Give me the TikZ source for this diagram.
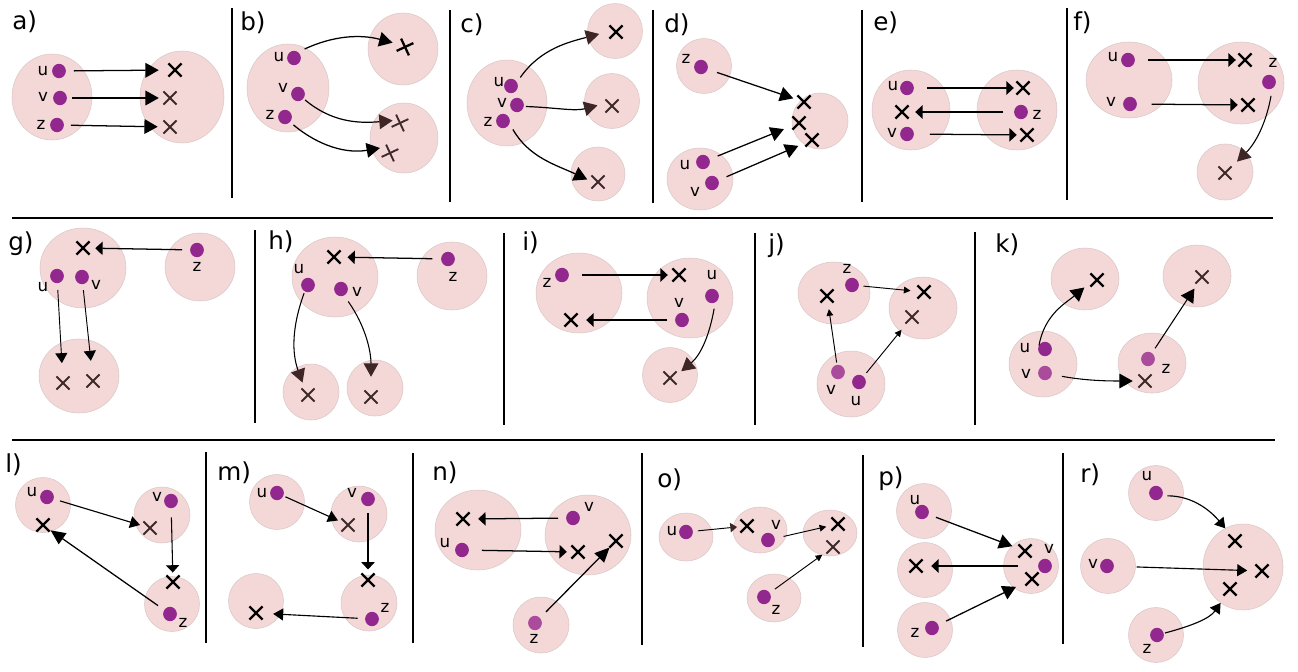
\documentclass[tikz,border=0pt]{standalone}
\usepackage{fontspec}
\setmainfont{DejaVu Sans}
\usetikzlibrary{shapes.geometric,shapes.misc,arrows.meta}
\definecolor{pinkf}{RGB}{244,215,215}
\definecolor{pinke}{RGB}{218,200,200}
\definecolor{purp}{RGB}{146,40,142}
\definecolor{lpurp}{RGB}{170,75,155}
\definecolor{xbrown}{RGB}{62,42,42}
\definecolor{hbrown}{RGB}{62,38,38}
\tikzset{
 blob/.style={ellipse,fill=pinkf,draw=pinke,line width=0.4pt,inner sep=0pt,outer sep=0pt},
 pdot/.style={ellipse,fill=purp,draw=none,minimum width=10.3pt,minimum height=10.8pt,inner sep=0pt,outer sep=0pt},
 ldot/.style={pdot,fill=lpurp},
 xk/.style={cross out,draw=black,line width=1.7pt,minimum size=9.8pt,inner sep=0pt,outer sep=0pt},
 xb/.style={xk,draw=xbrown,line width=1.4pt},
 lab/.style={font=\fontsize{12.5}{13}\selectfont,inner sep=0pt},
 plab/.style={font=\fontsize{18.5}{19}\selectfont,inner sep=0pt,anchor=base west},
 vsep/.style={line width=1.5pt},
 hsep/.style={line width=2.2pt},
 arr/.style={line width=0.95pt,-{Triangle[length=10pt,width=11pt]}},
 arrb/.style={line width=0.9pt,-{Triangle[length=10pt,width=11pt,color=hbrown]}},
 arrm/.style={line width=0.85pt,-{Triangle[length=7.5pt,width=9pt]}},
 arrw/.style={line width=0.95pt,-{Triangle[length=5.5pt,width=10pt]}},
 arrs/.style={line width=0.7pt,-{Triangle[length=5pt,width=5pt]}},
 arrsb/.style={line width=0.7pt,-{Triangle[length=5pt,width=7pt,color=hbrown]}},
 arrL/.style={line width=0.95pt,-{Triangle[length=11pt,width=10pt]}},
 gp/.style 2 args={shorten <=#1pt,shorten >=#2pt},
}
\newcommand\mkb[5]{\node[blob,minimum width=#4*1.5pt,minimum height=#5*1.5pt] (#1) at (#2,#3) {};}
\newcommand\mkd[4][pdot]{\node[#1] (#2) at (#3,#4) {};}
\newcommand\mkx[4][xk]{\node[#1] (#2) at (#3,#4) {};}
\newcommand\mkl[4]{\node[lab] (#1) at (#2,#3) {#4};}
\begin{document}
\begin{tikzpicture}[x=0.75pt,y=-0.75pt]
\fill[white] (0,0) rectangle (1298,671);
\useasboundingbox (0,0) rectangle (1298,671);
% separators
\draw[hsep] (12,218) -- (1273,218);
\draw[hsep] (12,440) -- (1275,440);
\draw[vsep] (232,8) -- (232,198);
\draw[vsep] (450,10) -- (450,202);
\draw[vsep] (653,10) -- (653,203);
\draw[vsep] (862,10) -- (862,202);
\draw[vsep] (1067,8) -- (1067,200);
\draw[vsep] (255,230) -- (255,423);
\draw[vsep] (504,233) -- (504,425);
\draw[vsep] (755,233) -- (755,425);
\draw[vsep] (975,232) -- (975,425);
\draw[vsep] (206,452) -- (206,643);
\draw[vsep] (413,453) -- (413,643);
\draw[vsep] (642,453) -- (642,645);
\draw[vsep] (863,455) -- (863,647);
\draw[vsep] (1063,453) -- (1063,644);

% ---- a
\node[plab] (La) at (12,29) {a)};
\mkb{aL}{52}{97}{40}{43}
\mkb{aR}{182}{97}{42}{46}
\mkd{au}{59}{71} \mkd{av}{60}{98} \mkd{az}{57}{125}
\mkl{alu}{43}{71}{u} \mkl{alv}{43}{97}{v} \mkl{alz}{41}{125}{z}
\mkx{ax1}{175}{70} \mkx[xb]{ax2}{170}{98} \mkx[xb]{ax3}{170}{127}
\draw[arr,gp={6}{7.3}] (au) -- (ax1);
\draw[arr,gp={3.8}{3.5}] (av) -- (ax2);
\draw[arr,gp={5.2}{4.3}] (az) -- (ax3);

% ---- b
\node[plab] (Lb) at (240,30) {b)};
\mkb{bL}{288}{88}{41}{44} \mkb{bT}{403}{49}{35}{36} \mkb{bB}{404}{138}{34}{35}
\mkd{bu}{294}{58} \mkd{bv}{298}{94} \mkd{bz}{285}{117}
\mkl{blu}{279}{57}{u} \mkl{blv}{283}{88}{v} \mkl{blz}{270}{115}{z}
\mkx[xk,rotate=-20]{bx1}{405}{47} \mkx[xb,rotate=-20]{bx2}{400}{123} \mkx[xb,rotate=-20]{bx3}{390}{153}
\draw[arr,gp={5.5}{5}] (bu.56) to[out=25,in=165] (bx1.177);
\draw[arrb,gp={1.7}{1}] (bv.-40) to[out=-40,in=185] (bx2.177);
\draw[arr,gp={3.4}{4}] (bz.-45) to[out=-40,in=190] (bx3.149);

% ---- c
\node[plab] (Lc) at (460,32) {c)};
\mkb{cL}{507}{103}{40}{43} \mkb{cT}{615}{31}{27.5}{27.5} \mkb{cM}{612}{101}{27.5}{27.5} \mkb{cB}{598}{174}{27}{27}
\mkd{cu}{511}{86} \mkd{cv}{517}{105} \mkd{cz}{503}{121}
\mkl{clu}{499}{82}{u} \mkl{clv}{502}{103}{v} \mkl{clz}{488}{122}{z}
\mkx{cx1}{616}{32} \mkx[xb]{cx2}{612}{106} \mkx[xb]{cx3}{598}{182}
\draw[arrb,gp={4.5}{8}] (cu.32) to[out=55,in=195] (cx1.173);
\draw[arrb,gp={1.6}{6.2}] (cv.-12) to[out=-2,in=195] (cx2.157);
\draw[arr,gp={5.2}{3.5}] (cz.-21) to[out=-60,in=155] (cx3.175);

% ---- d
\node[plab] (Ld) at (664,32) {d)};
\mkb{dT}{704}{66}{27.5}{27.5} \mkb{dB}{700}{179}{33}{31} \mkb{dR}{820}{121}{28}{28}
\mkd{dz}{701}{67} \mkd{du}{703}{162} \mkd{dv}{712}{183}
\mkl{dlz}{686}{59}{z} \mkl{dlu}{685}{165}{u} \mkl{dlv}{695}{192}{v}
\mkx{dx1}{804}{102} \mkx{dx2}{799}{123} \mkx{dx3}{812}{140}
\draw[arr,gp={7.5}{3.3}] (dz) -- (dx1);
\draw[arr,gp={6.7}{6.9}] (du) -- (dx2);
\draw[arr,gp={6.7}{5.8}] (dv) -- (dx3);

% ---- e
\node[plab] (Le) at (873,30) {e)};
\mkb{eL}{911}{110}{39}{40} \mkb{eR}{1017}{110}{40}{40}
\mkd{eu}{907}{88} \mkd{ev}{907}{134} \mkd{ez}{1021}{112}
\mkl{elu}{893}{86}{u} \mkl{elv}{892}{133}{v} \mkl{elz}{1037}{115}{z}
\mkx{ex1}{1023}{88} \mkx{ex2}{902}{112} \mkx{ex3}{1027}{135}
\draw[arrw,gp={9.8}{2}] (eu) -- (ex1);
\draw[arrw,gp={8.3}{5}] (ez) -- (ex2);
\draw[arrw,gp={12}{2.8}] (ev) -- (ex3);

% ---- f
\node[plab] (Lf) at (1073,30) {f)};
\mkb{fL}{1129}{80}{43}{38} \mkb{fR}{1241}{83}{43}{41} \mkb{fB}{1225}{172}{28}{28}
\mkd{fu}{1128}{60} \mkd{fv}{1130}{104} \mkd{fz}{1269}{82}
\mkl{flu}{1113}{57}{u} \mkl{flv}{1111}{102}{v} \mkl{flz}{1273}{63}{z}
\mkx{fx1}{1245}{60} \mkx{fx2}{1248}{105} \mkx[xb]{fx3}{1225}{173}
\draw[arrw,gp={9.8}{2}] (fu) -- (fx1);
\draw[arrw,gp={11}{2.8}] (fv) -- (fx2);
\draw[arrb,line width=0.8pt,gp={5.8}{5.8}] (fz.-62) to[out=-100,in=45] (fx3.42);

% ---- g
\node[plab] (Lg) at (8,250) {g)};
\mkb{gM}{83}{268}{43}{40} \mkb{gZ}{200}{267}{35}{34} \mkb{gB}{79}{376}{40}{37}
\mkd{gu}{57}{276} \mkd{gv}{82}{277} \mkd{gz}{197}{250}
\mkl{glu}{43}{287}{u} \mkl{glv}{96}{285}{v} \mkl{glz}{197}{267}{z}
\mkx{gx1}{83}{248} \mkx[xb]{gx2}{63}{383} \mkx[xb]{gx3}{93}{381}
\draw[arrw,gp={6}{4.3}] (gz) -- (gx1);
\draw[arrm,line width=0.7pt,gp={5}{10}] (gu) -- (gx2);
\draw[arrm,line width=0.7pt,gp={4.5}{10.3}] (gv) -- (gx3);

% ---- h
\node[plab] (Lh) at (268,249) {h)};
\mkb{hM}{335}{277}{43}{40} \mkb{hZ}{452}{276}{35}{34} \mkb{hBL}{311}{392}{28}{28} \mkb{hBR}{375}{388}{28}{28}
\mkd{hu}{308}{285} \mkd{hv}{341}{289} \mkd{hz}{448}{259}
\mkl{hlu}{299}{269}{u} \mkl{hlv}{357}{292}{v} \mkl{hlz}{453}{277}{z}
\mkx{hx1}{334}{257} \mkx[xb]{hx2}{308}{395} \mkx[xb]{hx3}{371}{397}
\draw[arrw,gp={6.6}{5.2}] (hz) -- (hx1);
\draw[arrb,line width=0.8pt,gp={1.5}{4.7}] (hu.-117) to[out=-110,in=110] (hx2.117);
\draw[arrb,line width=0.8pt,gp={5.5}{10.3}] (hv.-65) to[out=-55,in=90] (hx3.90);

% ---- i
\node[plab] (Li) at (522,250) {i)};
\mkb{iL}{579}{293}{43}{40} \mkb{iR}{690}{298}{43}{40} \mkb{iB}{670}{375}{27.5}{27.5}
\mkd{iz}{562}{275} \mkd{iu}{712}{296} \mkd{iv}{682}{320}
\mkl{ilz}{547}{283}{z} \mkl{ilu}{712}{275}{u} \mkl{ilv}{679}{303}{v}
\mkx{ix1}{679}{275} \mkx{ix2}{571}{320} \mkx[xb]{ix3}{670}{378}
\draw[arrw,gp={9.8}{3.5}] (iz) -- (ix1);
\draw[arrw,gp={6}{6.5}] (iv) -- (ix2);
\draw[arrb,line width=0.8pt,gp={4.8}{4.6}] (iu.-63) to[out=-100,in=40] (ix3.23);

% ---- j
\node[plab] (Lj) at (768,252) {j)};
\mkb{jTL}{834}{293}{36}{31} \mkb{jR}{923}{308}{34}{31} \mkb{jB}{851}{384}{34}{33}
\mkd{jz}{852}{285} \mkd[ldot]{jv}{838}{372} \mkd{ju}{859}{382}
\mkl{jlz}{847}{269}{z} \mkl{jlv}{831}{390}{v} \mkl{jlu}{856}{401}{u}
\mkx{jx1}{827}{296} \mkx{jx2}{924}{292} \mkx[xb]{jx3}{912}{317}
\draw[arrs,gp={3.5}{5.2}] (jz) -- (jx2);
\draw[arrs,gp={1.8}{5}] (jv) -- (jx1);
\draw[arrs,gp={3.5}{6.1}] (ju) -- (jx3);

% ---- k
\node[plab] (Lk) at (995,252) {k)};
\mkb{kTL}{1085}{279}{34}{31} \mkb{kTR}{1197}{276}{34}{31} \mkb{kBL}{1043}{364}{34}{33} \mkb{kBR}{1152}{363}{34}{30}
\mkd{ku}{1045}{349} \mkd[ldot]{kv}{1045}{373} \mkd[ldot]{kz}{1148}{359}
\mkl{klu}{1025}{348}{u} \mkl{klv}{1026}{374}{v} \mkl{klz}{1166}{369}{z}
\mkx{kx1}{1097}{280} \mkx[xb]{kx2}{1202}{277} \mkx[xb]{kx3}{1145}{381}
\draw[arr,line width=0.8pt,gp={0}{6}] (ku.150) to[out=80,in=220] (kx1.200);
\draw[arr,line width=0.8pt,gp={7.8}{4.3}] (kv.-13) to[out=-10,in=180] (kx3.180);
\draw[arr,line width=0.8pt,gp={4.3}{4.5}] (kz) -- (kx2);

% ---- l
\node[plab] (Ll) at (5,472) {l)};
\mkb{lU}{43}{505}{27.5}{27.5} \mkb{lV}{162}{515}{28}{28} \mkb{lZ}{172}{604}{27.5}{27.5}
\mkd{lu}{47}{497} \mkd{lv}{171}{501} \mkd{lz}{170}{614}
\mkl{llu}{32}{492}{u} \mkl{llv}{157}{497}{v} \mkl{llz}{183}{623}{z}
\mkx{lx1}{43}{525} \mkx[xb]{lx2}{150}{528} \mkx{lx3}{173}{582}
\draw[arrm,gp={5}{2.7}] (lu) -- (lx2);
\draw[arrw,line width=0.8pt,gp={6.8}{2.2}] (lv) -- (lx3);
\draw[arrL,gp={5.7}{1}] (lz) -- (lx1);

% ---- m
\node[plab] (Lm) at (217,480) {m)};
\mkb{mU}{277}{502}{27.5}{27.5} \mkb{mV}{359}{514}{28}{28} \mkb{mBL}{256}{601}{27.5}{27.5} \mkb{mZ}{369}{603}{28}{28}
\mkd{mu}{277}{493} \mkd{mv}{368}{499} \mkd{mz}{372}{619}
\mkl{mlu}{262}{493}{u} \mkl{mlv}{352}{493}{v} \mkl{mlz}{385}{608}{z}
\mkx[xb]{mx1}{348}{525} \mkx{mx2}{368}{580} \mkx{mx3}{256}{613}
\draw[arrm,gp={1.7}{2.9}] (mu) -- (mx1);
\draw[arrw,line width=0.8pt,gp={5.3}{3}] (mv) -- (mx2);
\draw[arrm,gp={5.7}{8}] (mz) -- (mx3);

% ---- n
\node[plab] (Ln) at (432,480) {n)};
\mkb{nL}{478}{530}{43}{40} \mkb{nR}{588}{535}{43}{40} \mkb{nZ}{541}{625}{28}{28}
\mkd{nv}{573}{518} \mkd{nu}{462}{550} \mkd[ldot]{nz}{535}{623}
\mkl{nlv}{589}{507}{v} \mkl{nlu}{445}{543}{u} \mkl{nlz}{534}{639}{z}
\mkx{nx1}{463}{519} \mkx{nx2}{578}{552} \mkx{nx3}{616}{541}
\draw[arrw,gp={6}{6.5}] (nv) -- (nx1);
\draw[arrw,gp={9.8}{3.5}] (nu) -- (nx2);
\draw[arrL,gp={6.5}{0}] (nz) -- (nx3);

% ---- o
\node[plab] (Lo) at (657,487) {o)};
\mkb{oU}{686}{537}{27}{24} \mkb{oV}{760}{530}{27}{23} \mkb{oR}{830}{533}{27}{23} \mkb{oZ}{774}{598}{27}{24}
\mkd{ou}{686}{532} \mkd{ov}{768}{540} \mkd{oz}{764}{597}
\mkl{olu}{672}{531}{u} \mkl{olv}{776}{525}{v} \mkl{olz}{776}{610}{z}
\mkx{ox1}{747}{526} \mkx{ox2}{838}{524} \mkx[xb]{ox3}{833}{547}
\draw[arrsb,gp={3.8}{2.6}] (ou) -- (ox1);
\draw[arrs,gp={6.8}{4}] (ov) -- (ox2);
\draw[arrs,gp={4.9}{3.8}] (oz) -- (ox3);

% ---- p
\node[plab] (Lp) at (878,485) {p)};
\mkb{pU}{924}{511}{27.5}{27.5} \mkb{pM}{925}{570}{27.5}{27.5} \mkb{pZ}{925}{630}{27.5}{27.5} \mkb{pV}{1031}{566}{27.5}{27.5}
\mkd{pu}{922}{512} \mkd{pv}{1045}{566} \mkd{pz}{932}{628}
\mkl{plu}{915}{500}{u} \mkl{plv}{1049}{549}{v} \mkl{plz}{915}{633}{z}
\mkx{px1}{1025}{551} \mkx{px2}{1032}{579} \mkx{px3}{916}{566}
\draw[arr,gp={6}{4.9}] (pu) -- (px1);
\draw[arrw,gp={15}{6.5}] (pv) -- (px3);
\draw[arr,gp={6.6}{7.9}] (pz) -- (px2);

% ---- r
\node[plab] (Lr) at (1080,482) {r)};
\mkb{rU}{1156}{493}{27.5}{27.5} \mkb{rV}{1108}{566}{27.5}{27.5} \mkb{rB}{1243}{567}{40}{43} \mkb{rZ}{1156}{635}{27.5}{27.5}
\mkd{ru}{1156}{493} \mkd{rv}{1107}{566} \mkd{rz}{1157}{635}
\mkl{rlu}{1147}{476}{u} \mkl{rlv}{1093}{564}{v} \mkl{rlz}{1147}{649}{z}
\mkx{rx1}{1235}{541} \mkx{rx2}{1262}{571} \mkx{rx3}{1230}{589}
\draw[arrm,gp={3.8}{6}] (ru.-24) to[out=0,in=130] (rx1.125);
\draw[arrm,gp={17}{6.2}] (rv) -- (rx2);
\draw[arrm,gp={1}{6.8}] (rz.14) to[out=15,in=235] (rx3.237);
\end{tikzpicture}
\end{document}
